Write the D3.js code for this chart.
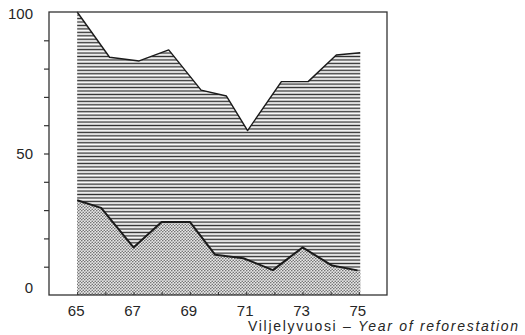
<!DOCTYPE html>
<html>
<head>
<meta charset="utf-8">
<script src="https://cdn.jsdelivr.net/npm/d3@7"></script>
<style>
  html, body { margin: 0; padding: 0; background: #fff; }
  svg { display: block; }
  text { font-family: "Liberation Sans", Arial, sans-serif; fill: #262626; }
</style>
</head>
<body>
<script>
// Total share (upper boundary, hatched) by year of reforestation
const totalYears  = [65, 66.15, 67.2, 68.25, 69.4, 70.3, 71.05, 72.25, 73.2, 74.2, 75.05];
const totalValues = [100, 84.0, 82.7, 86.6, 72.4, 70.3, 58.1, 75.4, 75.4, 84.8, 85.6];

// Lower component (stippled)
const lowerYears  = [65, 65.85, 67, 68, 69, 69.9, 70.9, 71.95, 73, 74.05, 74.95, 75.05];
const lowerValues = [33.5, 30.8, 16.8, 25.8, 25.8, 14.2, 13.0, 8.8, 16.8, 10.4, 8.7, 8.6];

// Axis ticks and labels
const xTickYears  = [65, 66, 67, 68, 69, 70, 71, 72, 73, 74, 75];
const xLabelYears = [65, 67, 69, 71, 73, 75];
const yTickValues = [10, 20, 30, 40, 50, 60, 70, 80, 90];
const yLabelValues = [0, 50, 100];
const titleMain = "Viljelyvuosi – ";
const titleItalic = "Year of reforestation";

const W = 525, H = 335;
const svg = d3.select("body").append("svg").attr("width", W).attr("height", H);

const x = d3.scaleLinear().domain([64, 76]).range([49, 387]);
const y = d3.scaleLinear().domain([0, 100]).range([295, 12]);

const defs = svg.append("defs");

// horizontal hatching
const hatch = defs.append("pattern")
  .attr("id", "hatch").attr("patternUnits", "userSpaceOnUse")
  .attr("width", 8).attr("height", 3.45);
hatch.append("rect").attr("width", 8).attr("height", 3.45).attr("fill", "#fff");
hatch.append("rect").attr("y", 0.6).attr("width", 8).attr("height", 1.4).attr("fill", "#303030");

// fine stipple: staggered dots
const dots = defs.append("pattern")
  .attr("id", "dots").attr("patternUnits", "userSpaceOnUse")
  .attr("width", 3).attr("height", 3);
dots.append("rect").attr("width", 3).attr("height", 3).attr("fill", "#e8e8e8");
[[0.75, 0.75], [2.25, 2.25]].forEach(([cx, cy]) => {
  dots.append("circle").attr("cx", cx).attr("cy", cy).attr("r", 0.8).attr("fill", "#6e6e6e");
});

const totalData = totalYears.map((t, i) => ({ t, v: totalValues[i] }));
const lowerData = lowerYears.map((t, i) => ({ t, v: lowerValues[i] }));

const area = d3.area().x(d => x(d.t)).y0(y(0)).y1(d => y(d.v));
const line = d3.line().x(d => x(d.t)).y(d => y(d.v));

svg.append("path").datum(totalData).attr("d", area).attr("fill", "url(#hatch)");
svg.append("path").datum(lowerData).attr("d", area).attr("fill", "url(#dots)");

svg.append("path").datum(totalData).attr("d", line)
  .attr("fill", "none").attr("stroke", "#1a1a1a").attr("stroke-width", 1.4)
  .attr("stroke-linejoin", "round");
svg.append("path").datum(lowerData.slice(0, -1)).attr("d", line)
  .attr("fill", "none").attr("stroke", "#1a1a1a").attr("stroke-width", 2)
  .attr("stroke-linejoin", "round");

// frame
svg.append("rect")
  .attr("x", x(64)).attr("y", y(100))
  .attr("width", x(76) - x(64)).attr("height", y(0) - y(100))
  .attr("fill", "none").attr("stroke", "#333").attr("stroke-width", 1.3);

// y ticks (outside, left)
const yAxis = svg.append("g").attr("transform", `translate(${x(64)},0)`)
  .call(d3.axisLeft(y).tickValues(yTickValues).tickSize(5).tickFormat(""));
yAxis.select(".domain").remove();
yAxis.selectAll("line").attr("stroke", "#333").attr("stroke-width", 1.2);

// x ticks (inside, upward)
const xAxis = svg.append("g").attr("transform", `translate(0,${y(0)})`)
  .call(d3.axisBottom(x).tickValues(xTickYears).tickSize(-3).tickFormat(""));
xAxis.select(".domain").remove();
xAxis.selectAll("line").attr("stroke", "#333").attr("stroke-width", 1);

// y labels
const yOffset = v => (v === 0 ? -6 : v === 100 ? 3.5 : 2);
svg.selectAll(".ylab").data(yLabelValues).enter().append("text")
  .attr("class", "ylab")
  .attr("x", 33).attr("y", d => y(d) + yOffset(d))
  .attr("text-anchor", "end").attr("dominant-baseline", "middle")
  .style("font-size", "15px")
  .text(d => d);

// x labels
svg.selectAll(".xlab").data(xLabelYears).enter().append("text")
  .attr("class", "xlab")
  .attr("x", d => x(d) - 1).attr("y", 316)
  .attr("text-anchor", "middle")
  .style("font-size", "15px")
  .text(d => d);

// axis title
const title = svg.append("text")
  .attr("x", 248).attr("y", 331)
  .style("font-size", "14px").style("letter-spacing", "1.7px");
title.append("tspan").text(titleMain);
title.append("tspan").style("font-style", "italic").text(titleItalic);
</script>
</body>
</html>
